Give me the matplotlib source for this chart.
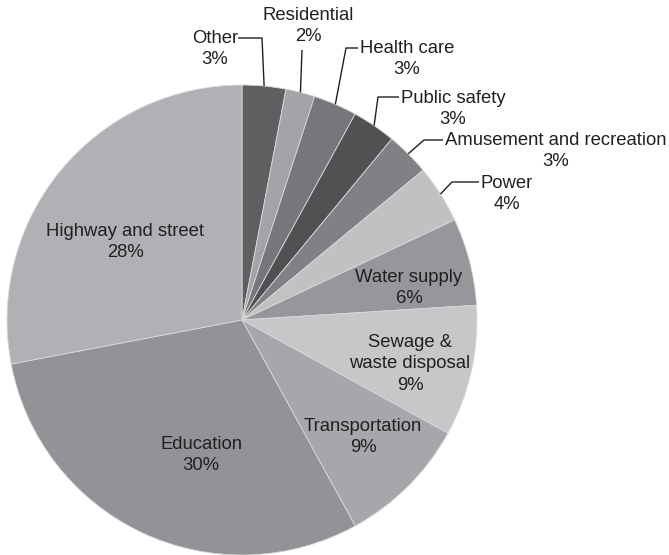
import matplotlib
matplotlib.use("Agg")
import matplotlib.pyplot as plt
import numpy as np

plt.rcParams['font.family'] = ['Liberation Sans', 'DejaVu Sans']

# Construction spending by category (percent), clockwise from 12 o'clock
categories = ["Other", "Residential", "Health care", "Public safety",
              "Amusement and recreation", "Power", "Water supply",
              "Sewage &\nwaste disposal", "Transportation", "Education",
              "Highway and street"]
shares = [3, 2, 3, 3, 3, 4, 6, 9, 9, 30, 28]
colors = ["#5f5f61", "#a3a4a7", "#76777a", "#505153", "#808184", "#c0c1c3",
          "#96979a", "#c6c7c9", "#a6a7aa", "#929396", "#b0b1b4"]

W, H = 669, 555
fig = plt.figure(figsize=(W / 100, H / 100), dpi=100)
ax = fig.add_axes([0, 0, 1, 1])

cx, cy, r = 242, H - 320, 235
wedges, _ = ax.pie(shares, colors=colors, startangle=90, counterclock=False,
                   center=(cx, cy), radius=r,
                   wedgeprops=dict(edgecolor="#d9d9da", linewidth=0.6))
ax.set_xlim(0, W)
ax.set_ylim(0, H)
ax.set_aspect("equal")
ax.axis("off")

txt = dict(ha="center", va="center", fontsize=13.3, color="#231f20",
           linespacing=1.36)

def lbl(i):
    return f"{categories[i]}\n{shares[i]}%"

# labels placed inside the larger slices (x, y measured from the top)
inside = {10: (125, 242), 9: (201, 455), 8: (363, 437), 7: (410, 364), 6: (409, 288)}
for i, (x, y) in inside.items():
    ax.text(x, H - y, lbl(i), **txt)

# slice mid-angles on the rim, for leader lines
cum = np.cumsum([0] + shares[:-1])
mid = np.deg2rad(360 * (cum + np.array(shares) / 2) / 100)

def rim(i):
    return cx + r * np.sin(mid[i]), cy + r * np.cos(mid[i])

outside = {
    0: ((215, 49), [(238, 38), (262, 38)]),
    1: ((308, 26), [(302, 50)]),
    2: ((407, 59), [(358, 48), (346, 48)]),
    3: ((453, 109), [(399, 97), (378, 97)]),
    4: ((556, 151), [(443, 140), (424, 140)]),
    5: ((507, 194), [(479, 182), (452, 182)]),
}
for i, ((tx, ty), pts) in outside.items():
    ax.text(tx, H - ty, lbl(i), **txt)
    xs = [p[0] for p in pts]
    ys = [H - p[1] for p in pts]
    ex, ey = rim(i)
    xs.append(ex)
    ys.append(ey)
    ax.plot(xs, ys, color="#231f20", lw=1.0, solid_capstyle="butt")

fig.savefig("out.png", dpi=100)
